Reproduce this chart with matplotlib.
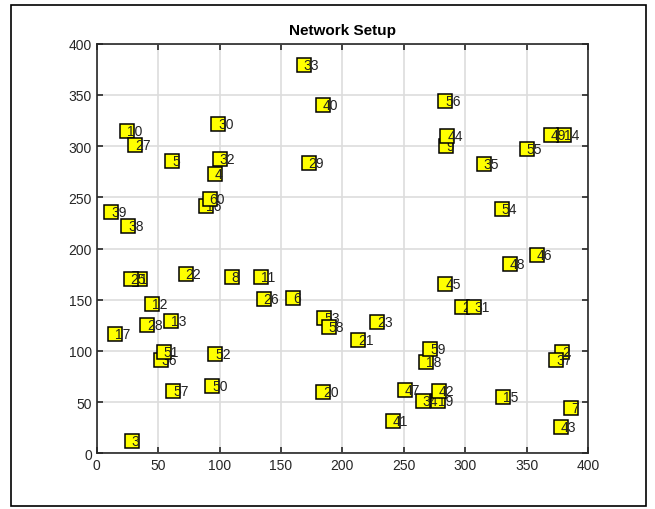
import numpy as np
import matplotlib
matplotlib.use("Agg")
import matplotlib.pyplot as plt
from matplotlib.patches import Rectangle

# Coordenadas dos nós, nó i = índice i-1
nos_x = [35, 379, 28.5, 96, 61.5, 160, 386, 110, 284.5, 24.5,
         134, 44.7, 60.7, 380.5, 330.6, 89.2, 14.6, 268, 277.8, 184.3,
         212.7, 72.4, 228.2, 297.3, 27.6, 136, 31.1, 41.2, 172.6, 98.9,
         307.3, 100.3, 168.5, 265.3, 315, 52.3, 374, 25.7, 11.9, 184.3,
         241.2, 278.3, 377.8, 285.6, 283.7, 358.3, 250.7, 336.3, 369.7, 94,
         54.7, 96.7, 185.4, 329.8, 350, 283.7, 62.3, 188.9, 271.5, 91.9]
nos_y = [170, 99, 12.4, 273, 285.5, 152, 44, 171.7, 300, 315,
         172.4, 146.3, 129, 311, 55, 241.6, 116.4, 88.8, 51, 60.2,
         111, 175.3, 128.5, 143, 170, 150.5, 301.5, 125.2, 283.6, 322,
         143, 287, 379, 51, 283, 90.7, 91, 221.8, 235.8, 340.5,
         31.5, 60.8, 26, 310, 165, 193.5, 61.8, 184.4, 311, 65.7,
         98.5, 96.6, 131.7, 239, 297.5, 344, 60.8, 123, 101.8, 248]
rotulos = [str(i + 1) for i in range(len(nos_x))]

plt.rcParams['font.family'] = ['Liberation Sans', 'DejaVu Sans']

fig = plt.figure(figsize=(6.55, 5.10), dpi=100)
ax = fig.add_axes([0.1476, 0.1092, 0.7501, 0.8031])

# moldura externa da figura
fig.patches.append(Rectangle((11 / 655, 3 / 510), 635 / 655, 501 / 510,
                             transform=fig.transFigure, fill=False,
                             edgecolor='black', linewidth=1.2))

# cada nó: quadrado amarelo e número (o seguinte cobre o anterior)
for i in range(len(nos_x)):
    ax.plot(nos_x[i], nos_y[i], 's', markersize=10.5, markerfacecolor='yellow',
            markeredgecolor='black', markeredgewidth=1.1, zorder=2 + 2 * i)
    ax.text(nos_x[i], nos_y[i], rotulos[i], ha='left', va='center',
            fontsize=10, color='#222222', zorder=3 + 2 * i)

ax.set_xlim(0, 400)
ax.set_ylim(0, 400)
ax.set_xticks(np.arange(0, 401, 50))
ax.set_yticks(np.arange(0, 401, 50))
ax.grid(True, color='#dddddd', linewidth=1.2)
ax.set_axisbelow(True)
ax.tick_params(direction='in', top=True, right=True, length=4, width=1.2,
               labelsize=10, colors='#262626')
for s in ax.spines.values():
    s.set_color('#262626')
    s.set_linewidth(1.2)

ax.set_title("Network Setup", fontsize=11, fontweight='bold', pad=7)

plt.savefig("out.png", dpi=100)
